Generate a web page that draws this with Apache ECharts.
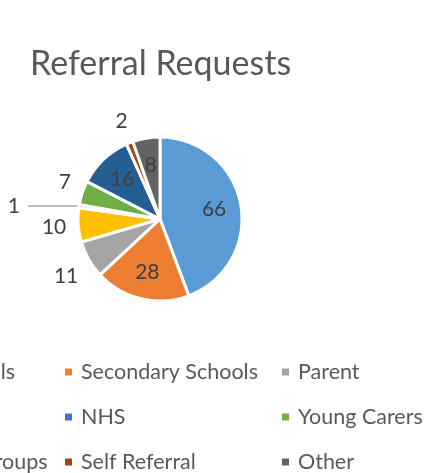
<!DOCTYPE html>
<html>
<head>
<meta charset="utf-8">
<script src="https://cdn.jsdelivr.net/npm/echarts@6/dist/echarts.min.js"></script>
<style>
  html, body { margin: 0; padding: 0; background: #fff; }
  #chart { width: 425px; height: 473px; }
</style>
</head>
<body>
<div id="chart"></div>
<script>
// referral sources, in legend order
const categories = ['Primary Schools', 'Secondary Schools', 'Parent', 'Social Care', 'NHS',
  'Young Carers', 'Community Groups', 'Self Referral', 'Other'];
const requests = [66, 28, 11, 10, 1, 7, 16, 2, 8];
const colors = ['#5B9BD5', '#ED7D31', '#A5A5A5', '#FFC000', '#4472C4',
  '#70AD47', '#255E91', '#9E480E', '#636363'];
// where each data label sits
const labelPlace = ['inside', 'inside', 'outside', 'outside', 'leader',
  'outside', 'inside', 'outside', 'inside'];

const PIE_CENTER = [160, 219];
const PIE_R = 82;
const FONT = 'Lato';

const clamp = v => Math.max(-1, Math.min(1, v));

const chart = echarts.init(document.getElementById('chart'));

const data = requests.map((v, i) => {
  const item = { name: categories[i], value: v, itemStyle: { color: colors[i] } };
  if (labelPlace[i] === 'inside') {
    item.label = { position: 'inside' };
    item.labelLine = { show: false };
  } else if (labelPlace[i] === 'leader') {
    item.label = { position: 'outside', distanceToLabelLine: 8 };
    item.labelLine = { show: true, length: 1, length2: 50, lineStyle: { color: '#A6A6A6', width: 1.5 } };
  } else {
    item.label = { position: 'outside', distanceToLabelLine: 0 };
    item.labelLine = { show: true, length: 1, length2: 0, lineStyle: { opacity: 0 } };
  }
  return item;
});

// legend columns (row-major legend, cut at the left edge)
const cols = [[0, 3, 6], [1, 4, 7], [2, 5, 8]];
const colLeft = [-154, 63, 280];

const option = {
  animation: false,
  title: {
    text: 'Referral Requests',
    left: 25,
    top: 42,
    textStyle: { fontFamily: FONT, fontSize: 34, fontWeight: 'normal', color: '#595959' }
  },
  legend: cols.map((c, k) => ({
    orient: 'vertical',
    left: colLeft[k],
    top: 361,
    padding: 0,
    height: 112,
    icon: 'rect',
    itemWidth: 9,
    itemHeight: 9,
    itemGap: 23,
    selectedMode: false,
    data: c.map(i => categories[i]),
    textStyle: { fontFamily: FONT, fontSize: 21.5, color: '#595959', lineHeight: 22, padding: [0, 0, 0, 3] }
  })),
  series: [{
    type: 'pie',
    center: PIE_CENTER,
    radius: PIE_R,
    startAngle: 90,
    clockwise: true,
    avoidLabelOverlap: false,
    minShowLabelAngle: 0,
    itemStyle: { borderColor: '#fff', borderWidth: 3 },
    label: {
      show: true,
      formatter: '{c}',
      fontFamily: FONT,
      fontSize: 21,
      color: '#404040'
    },
    labelLayout: function (params) {
      const i = params.dataIndex;
      const r = params.labelRect;
      const w = r.width, h = r.height;
      let mx, my;
      if (labelPlace[i] === 'leader') return {};
      if (labelPlace[i] === 'inside') {
        const cx0 = r.x + w / 2, cy0 = r.y + h / 2;
        mx = PIE_CENTER[0] + (cx0 - PIE_CENTER[0]) * 1.25;
        my = PIE_CENTER[1] + (cy0 - PIE_CENTER[1]) * 1.25;
      } else {
        const pts = params.labelLinePoints;
        if (!pts) return {};
        let dx = pts[1][0] - pts[0][0], dy = pts[1][1] - pts[0][1];
        const len = Math.hypot(dx, dy) || 1;
        dx /= len; dy /= len;
        const gap = 12;
        mx = pts[0][0] + dx * gap + clamp(1.6 * dx) * w / 2;
        my = pts[0][1] + dy * gap + clamp(2 * dy) * h / 2;
      }
      const ax = params.align === 'right' ? mx + w / 2 : params.align === 'left' ? mx - w / 2 : mx;
      const ay = params.verticalAlign === 'bottom' ? my + h / 2 : params.verticalAlign === 'top' ? my - h / 2 : my;
      return { x: ax, y: ay };
    },
    data: data
  }]
};

chart.setOption(option);
</script>
</body>
</html>
